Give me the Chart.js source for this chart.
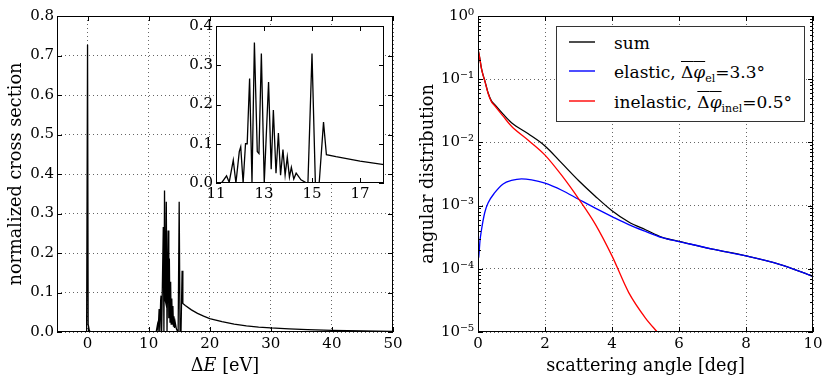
<!DOCTYPE html>
<html>
<head>
<meta charset="utf-8">
<script src="https://cdn.jsdelivr.net/npm/chart.js@4.4.1/dist/chart.umd.min.js"></script>
<style>
  body { margin: 0; background: #fff; width: 830px; height: 383px; position: relative; overflow: hidden; font-family: "DejaVu Serif", serif; }
  canvas { position: absolute; }
  #legend { position: absolute; left: 556px; top: 26px; width: 247px; height: 94px; border: 1px solid #333; background: #fff; }
  #legend .row { position: absolute; left: 0; width: 100%; height: 26px; }
  #legend svg { position: absolute; left: 12px; top: 10px; }
  #legend .txt { position: absolute; left: 57px; top: 1px; font-size: 17px; line-height: 24px; white-space: nowrap; color: #000; }
  .ov { text-decoration: overline; }
  .it { font-style: italic; }
  sub { font-size: 11px; vertical-align: -4px; line-height: 0; }
  #lossTitle { position: absolute; left: 57px; width: 336px; top: 354px; text-align: center; font-size: 17.7px; line-height: 22px; color: #000; }
</style>
</head>
<body>
<canvas id="lossChart" width="415" height="383" style="left:0;top:0"></canvas>
<canvas id="insetChart" width="215" height="202" style="left:180px;top:6px"></canvas>
<canvas id="angleChart" width="415" height="383" style="left:415px;top:0"></canvas>
<div id="lossTitle">Δ<span class="it">E</span> [eV]</div>
<div id="legend">
  <div class="row" style="top:3px"><svg width="26" height="4"><line x1="0" y1="2" x2="26" y2="2" stroke="#000000" stroke-width="1.4"/></svg><span class="txt">sum</span></div>
  <div class="row" style="top:32px"><svg width="26" height="4"><line x1="0" y1="2" x2="26" y2="2" stroke="#0000ff" stroke-width="1.4"/></svg><span class="txt">elastic, <span class="ov">Δ<span class="it">φ</span></span><sub>el</sub>=3.3°</span></div>
  <div class="row" style="top:62px"><svg width="26" height="4"><line x1="0" y1="2" x2="26" y2="2" stroke="#ff0000" stroke-width="1.4"/></svg><span class="txt">inelastic, <span class="ov">Δ<span class="it">φ</span></span><sub>inel</sub>=0.5°</span></div>
</div>
<script>
// energy loss spectrum (left panel + inset)
const lossE = [-5, -0.15, 0, 0.1, 0.3, 0.6, 11.0, 11.23, 11.44, 11.55, 11.72, 11.83, 11.97, 12.03, 12.13,
  12.23, 12.3, 12.4, 12.5, 12.6, 12.72, 12.79, 12.89, 13.01, 13.19, 13.3, 13.39, 13.5, 13.6, 13.69, 13.79,
  13.88, 13.97, 14.06, 14.14, 14.24, 14.34, 14.54, 14.78, 14.83, 15.0, 15.14, 15.3, 15.48, 15.6,
  16, 17, 18, 19, 20, 22, 24, 26, 28, 30, 33, 36, 40, 45, 50];
const lossSigma = [0, 0, 0.727, 0.02, 0.003, 0, 0, 0, 0.018, 0.002, 0.058, 0, 0.08, 0.092, 0,
  0.10, 0.10, 0.266, 0, 0.358, 0.08, 0.075, 0.33, 0, 0.257, 0.035, 0.186, 0.025, 0.127, 0.02, 0.085,
  0.02, 0.066, 0.015, 0.04, 0.01, 0.025, 0.008, 0, 0, 0.33, 0, 0, 0.155, 0.072,
  0.067, 0.056, 0.047, 0.040, 0.034, 0.026, 0.020, 0.0155, 0.0125, 0.0102, 0.0078, 0.006, 0.0043, 0.0028, 0.0018];

const lossXTicks = [0, 10, 20, 30, 40, 50];
const lossYTicks = [0, 0.1, 0.2, 0.3, 0.4, 0.5, 0.6, 0.7, 0.8];
const insetXTicks = [11, 13, 15, 17];
const insetYTicks = [0, 0.1, 0.2, 0.3, 0.4];

// angular distributions (right panel)
const angleSum = [0, 0.05, 0.1, 0.15, 0.2, 0.3, 0.4, 0.5, 0.75, 1.0, 1.5, 2.0, 2.5, 3.0, 3.5, 4.0, 4.5, 5.0, 5.5, 6.0, 7, 8, 9, 10];
const distSum = [0.30, 0.22, 0.151, 0.117, 0.096, 0.061, 0.0455, 0.0397, 0.028, 0.0205, 0.0137, 0.0088, 0.0047, 0.0025,
  1.41e-3, 8.3e-4, 5.5e-4, 4.15e-4, 3.15e-4, 2.72e-4, 2.05e-4, 1.6e-4, 1.18e-4, 7.6e-5];
const angleEl = [0.02, 0.03, 0.06, 0.1, 0.2, 0.3, 0.5, 0.75, 1.0, 1.3, 1.6, 2.0, 2.5, 3.0, 3.5, 4.0, 4.5, 5.0, 5.5, 6.0, 7, 8, 9, 10];
const distEl = [1.5e-4, 1.7e-4, 2.8e-4, 4.0e-4, 7.7e-4, 1.1e-3, 1.6e-3, 2.2e-3, 2.5e-3, 2.65e-3, 2.55e-3, 2.26e-3, 1.75e-3,
  1.26e-3, 9.1e-4, 6.7e-4, 5.0e-4, 3.9e-4, 3.1e-4, 2.7e-4, 2.05e-4, 1.6e-4, 1.18e-4, 7.6e-5];
const angleInel = [0, 0.05, 0.1, 0.15, 0.2, 0.3, 0.4, 0.5, 0.75, 1.0, 1.5, 2.0, 2.5, 3.0, 3.5, 4.0, 4.5, 5.0, 5.35, 5.6];
const distInel = [0.30, 0.22, 0.15, 0.116, 0.095, 0.06, 0.044, 0.038, 0.026, 0.018, 0.0108, 0.0063, 0.0030, 1.29e-3,
  5.1e-4, 1.6e-4, 4.2e-5, 1.66e-5, 1.0e-5, 7e-6];

const angleXTicks = [0, 2, 4, 6, 8, 10];
const angleYTicks = [1e-5, 1e-4, 1e-3, 1e-2, 1e-1, 1];
const SUP = { "0": "⁰", "1": "¹", "2": "²", "3": "³", "4": "⁴", "5": "⁵", "-": "⁻" };

const FONT = "DejaVu Serif";
const tickFont = { family: FONT, size: 15 };
const titleFont = { family: FONT, size: 17.7 };
const gridStyle = { color: "rgba(0,0,0,0.6)", lineWidth: 1, drawTicks: false };

function points(xs, ys) {
  return xs.map((x, i) => ({ x, y: ys[i] }));
}

function fixTicks(values) {
  return (scale) => { scale.ticks = values.map(v => ({ value: v })); };
}

// inward tick marks on all four sides + the black frame, the way matplotlib draws them
const framePlugin = {
  id: "frame",
  beforeDraw(chart, args, opts) {
    if (!opts.fill) return;
    const a = chart.chartArea;
    chart.ctx.save();
    chart.ctx.fillStyle = "#fff";
    chart.ctx.fillRect(a.left, a.top, a.width, a.height);
    chart.ctx.restore();
  },
  afterDatasetsDraw(chart, args, opts) {
    const { ctx, chartArea: a, scales: { x, y } } = chart;
    ctx.save();
    ctx.strokeStyle = "#000";
    ctx.lineWidth = 1;
    ctx.beginPath();
    x.ticks.forEach(t => {
      const px = Math.round(x.getPixelForValue(t.value)) + 0.5;
      ctx.moveTo(px, a.bottom); ctx.lineTo(px, a.bottom - 5);
      ctx.moveTo(px, a.top); ctx.lineTo(px, a.top + 5);
    });
    y.ticks.forEach(t => {
      const py = Math.round(y.getPixelForValue(t.value)) + 0.5;
      ctx.moveTo(a.left, py); ctx.lineTo(a.left + 5, py);
      ctx.moveTo(a.right, py); ctx.lineTo(a.right - 5, py);
    });
    (opts.minorY || []).forEach(v => {
      const py = Math.round(y.getPixelForValue(v)) + 0.5;
      ctx.moveTo(a.left, py); ctx.lineTo(a.left + 3, py);
      ctx.moveTo(a.right, py); ctx.lineTo(a.right - 3, py);
    });
    ctx.stroke();
    ctx.strokeRect(a.left + 0.5, a.top + 0.5, a.width - 1, a.height - 1);
    ctx.restore();
  }
};

function lineSet(data, color, order, mode) {
  return {
    data, borderColor: color, borderWidth: 1.3, pointRadius: 0, fill: false,
    tension: 0, cubicInterpolationMode: mode || "default", order
  };
}

function baseOptions(pad) {
  return {
    responsive: false, animation: false, devicePixelRatio: 1,
    layout: { padding: pad, autoPadding: false },
    plugins: { legend: { display: false }, tooltip: { enabled: false }, frame: {} }
  };
}

Chart.register(framePlugin);

// left panel (x-axis title is the HTML label #lossTitle, for the italic E)
new Chart(document.getElementById("lossChart"), {
  type: "line",
  data: { datasets: [lineSet(points(lossE, lossSigma), "#000", 1)] },
  options: {
    ...baseOptions({ left: 0, right: 22, top: 16, bottom: 0 }),
    scales: {
      x: {
        type: "linear", min: -5, max: 50,
        afterBuildTicks: fixTicks(lossXTicks),
        afterFit: s => { s.height = 51; },
        grid: gridStyle, border: { display: false, dash: [1, 3] },
        ticks: { font: tickFont, color: "#000", padding: 3, maxRotation: 0, callback: v => String(v) }
      },
      y: {
        type: "linear", min: 0, max: 0.8,
        afterBuildTicks: fixTicks(lossYTicks),
        afterFit: s => { s.width = 57; },
        grid: gridStyle, border: { display: false, dash: [1, 3] },
        ticks: { font: tickFont, color: "#000", padding: 3, callback: v => v.toFixed(1) },
        title: { display: true, text: "normalized cross section", font: titleFont, color: "#000", padding: { top: 6, bottom: 0 } }
      }
    }
  }
});

// inset: zoom on the 11-18 eV region
new Chart(document.getElementById("insetChart"), {
  type: "line",
  data: { datasets: [lineSet(points(lossE, lossSigma), "#000", 1)] },
  options: {
    ...baseOptions({ left: 0, right: 11, top: 20, bottom: 0 }),
    plugins: { legend: { display: false }, tooltip: { enabled: false }, frame: { fill: true } },
    scales: {
      x: {
        type: "linear", min: 11, max: 18,
        afterBuildTicks: fixTicks(insetXTicks),
        afterFit: s => { s.height = 25; },
        grid: { display: false, drawTicks: false }, border: { display: false },
        ticks: { font: tickFont, color: "#000", padding: 2, maxRotation: 0, callback: v => String(v) }
      },
      y: {
        type: "linear", min: 0, max: 0.4,
        afterBuildTicks: fixTicks(insetYTicks),
        afterFit: s => { s.width = 36; },
        grid: { display: false, drawTicks: false }, border: { display: false },
        ticks: { font: tickFont, color: "#000", padding: 3, callback: v => v.toFixed(1) }
      }
    }
  }
});

// right panel
const minorLog = [];
for (let d = -5; d < 0; d++) for (let k = 2; k <= 9; k++) minorLog.push(k * Math.pow(10, d));

new Chart(document.getElementById("angleChart"), {
  type: "line",
  data: {
    datasets: [
      lineSet(points(angleSum, distSum), "#000", 3, "monotone"),
      lineSet(points(angleEl, distEl), "#0000ff", 2, "monotone"),
      lineSet(points(angleInel, distInel), "#ff0000", 1, "monotone")
    ]
  },
  options: {
    ...baseOptions({ left: 0, right: 17, top: 16, bottom: 0 }),
    plugins: { legend: { display: false }, tooltip: { enabled: false }, frame: { minorY: minorLog } },
    scales: {
      x: {
        type: "linear", min: 0, max: 10,
        afterBuildTicks: fixTicks(angleXTicks),
        afterFit: s => { s.height = 51; },
        grid: gridStyle, border: { display: false, dash: [1, 3] },
        ticks: { font: tickFont, color: "#000", padding: 3, maxRotation: 0, callback: v => String(v) },
        title: { display: true, text: "scattering angle [deg]", font: titleFont, color: "#000", padding: { top: 0, bottom: 6 } }
      },
      y: {
        type: "logarithmic", min: 1e-5, max: 1,
        afterBuildTicks: fixTicks(angleYTicks),
        afterFit: s => { s.width = 63; },
        grid: gridStyle, border: { display: false, dash: [1, 3] },
        ticks: {
          font: tickFont, color: "#000", padding: 4,
          callback: v => "10" + String(Math.round(Math.log10(v))).split("").map(c => SUP[c]).join("")
        },
        title: { display: true, text: "angular distribution", font: titleFont, color: "#000", padding: { top: 3, bottom: 0 } }
      }
    }
  }
});
</script>
</body>
</html>
